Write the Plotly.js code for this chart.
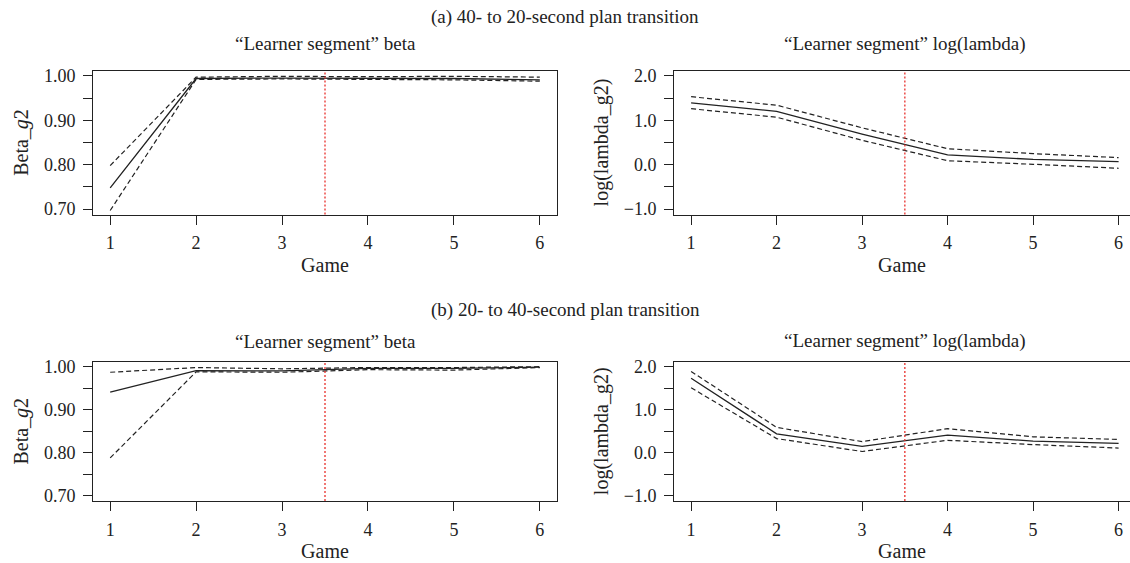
<!DOCTYPE html>
<html>
<head>
<meta charset="utf-8">
<script src="https://cdn.plot.ly/plotly-3.0.1.min.js"></script>
<style>html,body{margin:0;padding:0;background:#fff;}#chart{width:1130px;height:563px;}</style>
</head>
<body>
<div id="chart"></div>
<script>
// ---- data ----
const games = [1, 2, 3, 4, 5, 6];
const transitionGame = 3.5;

// (a) 40- to 20-second plan transition
const aBetaMean  = [0.748, 0.994, 0.995, 0.994, 0.994, 0.991];
const aBetaUpper = [0.798, 0.997, 0.999, 0.998, 0.999, 0.997];
const aBetaLower = [0.697, 0.992, 0.993, 0.992, 0.991, 0.988];
const aLamMean   = [1.39, 1.20, 0.69, 0.22, 0.12, 0.07];
const aLamUpper  = [1.53, 1.34, 0.83, 0.36, 0.25, 0.16];
const aLamLower  = [1.26, 1.07, 0.55, 0.09, 0.01, -0.08];

// (b) 20- to 40-second plan transition
const bBetaMean  = [0.941, 0.991, 0.990, 0.996, 0.996, 0.999];
const bBetaUpper = [0.987, 0.998, 0.995, 0.998, 0.998, 1.000];
const bBetaLower = [0.788, 0.988, 0.987, 0.993, 0.992, 0.998];
const bLamMean   = [1.73, 0.44, 0.15, 0.41, 0.27, 0.22];
const bLamUpper  = [1.89, 0.59, 0.26, 0.56, 0.37, 0.31];
const bLamLower  = [1.51, 0.33, 0.03, 0.29, 0.19, 0.11];

// ---- tick labels ----
const xTickVals = [1, 2, 3, 4, 5, 6];
const xTickText = ['1', '2', '3', '4', '5', '6'];
const betaTickVals = [0.70, 0.75, 0.80, 0.85, 0.90, 0.95, 1.00];
const betaTickText = ['0.70', '', '0.80', '', '0.90', '', '1.00'];
const lamTickVals = [-1.0, -0.5, 0.0, 0.5, 1.0, 1.5, 2.0];
const lamTickText = ['\u22121.0', '', '0.0', '', '1.0', '', '2.0'];

const panelTitles = ['(a) 40- to 20-second plan transition', '(b) 20- to 40-second plan transition'];
const betaTitle = '\u201cLearner segment\u201d beta';
const lamTitle = '\u201cLearner segment\u201d log(lambda)';

// ---- styling ----
const FONT = 'Liberation Serif, Times New Roman, serif';
const INK = '#222';
const W = 1130, H = 563;
const px = v => v / W;
const py = v => 1 - v / H;

function band(xa, ya, mean, up, lo) {
  const base = {x: games, xaxis: xa, yaxis: ya, mode: 'lines', showlegend: false, hoverinfo: 'skip'};
  return [
    Object.assign({}, base, {y: up, line: {color: INK, width: 1.2, dash: '5px,3px'}}),
    Object.assign({}, base, {y: lo, line: {color: INK, width: 1.2, dash: '5px,3px'}}),
    Object.assign({}, base, {y: mean, line: {color: INK, width: 1.3}})
  ];
}

const data = [].concat(
  band('x', 'y', aBetaMean, aBetaUpper, aBetaLower),
  band('x2', 'y2', aLamMean, aLamUpper, aLamLower),
  band('x3', 'y3', bBetaMean, bBetaUpper, bBetaLower),
  band('x4', 'y4', bLamMean, bLamUpper, bLamLower)
);

function xAxis(domain, range, anchor) {
  return {
    domain: domain, range: range, anchor: anchor,
    tickmode: 'array', tickvals: xTickVals, ticktext: xTickText,
    ticks: 'outside', ticklen: 9, tickwidth: 1, tickcolor: INK,
    showline: true, linecolor: INK, linewidth: 1, mirror: true,
    showgrid: false, zeroline: false,
    tickfont: {family: FONT, size: 18, color: INK}, ticklabelstandoff: 3,
    title: {text: 'Game', font: {family: FONT, size: 20, color: INK}, standoff: 5}
  };
}
function yAxis(domain, range, anchor, vals, text, title, mirror) {
  return {
    domain: domain, range: range, anchor: anchor,
    tickmode: 'array', tickvals: vals, ticktext: text,
    ticks: 'outside', ticklen: 9, tickwidth: 1, tickcolor: INK,
    showline: true, linecolor: INK, linewidth: 1, mirror: mirror,
    showgrid: false, zeroline: false,
    tickfont: {family: FONT, size: 18, color: INK}, ticklabelstandoff: 4,
    title: {text: title, font: {family: FONT, size: 20, color: INK}, standoff: 9}
  };
}

const leftX = [px(93), px(557)];
const rightX = [px(674), 1];
const topY = [py(214.5), py(70.5)];
const botY = [py(501), py(361.5)];
const betaRange = [0.688, 1.012];
const lamRange = [-1.12, 2.12];
const xLeftRange = [0.8, 6.2];
const xRightRange = [0.8, 0.8 + (W - 674) / 85.5];

const betaY = 'Beta_<i>g</i>2';
const lamY = 'log(lambda_g2)';

const layout = {
  width: W, height: H,
  margin: {l: 0, r: 0, t: 0, b: 0},
  paper_bgcolor: '#fff', plot_bgcolor: '#fff',
  font: {family: FONT, color: INK},
  xaxis: xAxis(leftX, xLeftRange, 'y'),
  yaxis: yAxis(topY, betaRange, 'x', betaTickVals, betaTickText, betaY, true),
  xaxis2: xAxis(rightX, xRightRange, 'y2'),
  yaxis2: yAxis(topY, lamRange, 'x2', lamTickVals, lamTickText, lamY, false),
  xaxis3: xAxis(leftX, xLeftRange, 'y3'),
  yaxis3: yAxis(botY, betaRange, 'x3', betaTickVals, betaTickText, betaY, true),
  xaxis4: xAxis(rightX, xRightRange, 'y4'),
  yaxis4: yAxis(botY, lamRange, 'x4', lamTickVals, lamTickText, lamY, false),
  shapes: ['x', 'x2', 'x3', 'x4'].map((xr, i) => ({
    type: 'line', xref: xr, yref: ['y', 'y2', 'y3', 'y4'][i] + ' domain',
    x0: transitionGame, x1: transitionGame, y0: 0, y1: 1,
    line: {color: '#e8302c', width: 1.3, dash: '2px,2px'}
  })),
  annotations: [
    {text: panelTitles[0], x: 0.5, y: py(17)},
    {text: betaTitle, x: (leftX[0] + leftX[1]) / 2, y: py(44)},
    {text: lamTitle, x: px(905), y: py(44)},
    {text: panelTitles[1], x: 0.5, y: py(310)},
    {text: betaTitle, x: (leftX[0] + leftX[1]) / 2, y: py(341)},
    {text: lamTitle, x: px(905), y: py(341)}
  ].map(a => Object.assign({xref: 'paper', yref: 'paper', xanchor: 'center', yanchor: 'middle',
    showarrow: false, font: {family: FONT, size: 19, color: INK}}, a))
};

Plotly.newPlot('chart', data, layout, {displayModeBar: false, staticPlot: true});
</script>
</body>
</html>
